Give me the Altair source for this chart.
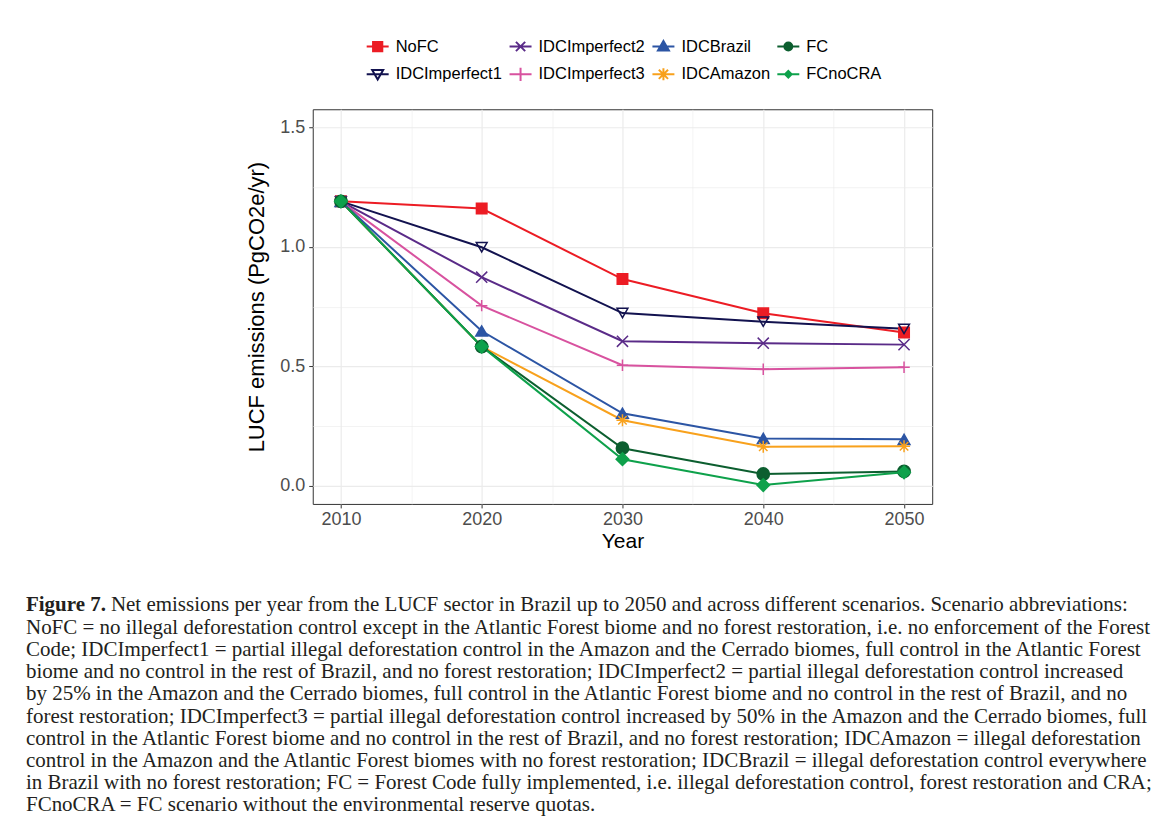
import altair as alt
import pandas as pd

# ---------------- data ----------------
years = [2010, 2020, 2030, 2040, 2050]
series_names = ["NoFC", "IDCImperfect1", "IDCImperfect2", "IDCImperfect3",
                "IDCBrazil", "IDCAmazon", "FC", "FCnoCRA"]
nofc = [1.19, 1.16, 0.865, 0.722, 0.642]
idc_imperfect1 = [1.19, 0.998, 0.723, 0.687, 0.657]
idc_imperfect2 = [1.19, 0.873, 0.605, 0.597, 0.591]
idc_imperfect3 = [1.19, 0.754, 0.505, 0.488, 0.496]
idc_brazil = [1.19, 0.648, 0.304, 0.199, 0.195]
idc_amazon = [1.19, 0.583, 0.275, 0.164, 0.166]
fc = [1.19, 0.583, 0.158, 0.050, 0.061]
fc_no_cra = [1.19, 0.583, 0.112, 0.004, 0.057]
series_values = [nofc, idc_imperfect1, idc_imperfect2, idc_imperfect3,
                 idc_brazil, idc_amazon, fc, fc_no_cra]

x_ticks = [2010, 2015, 2020, 2025, 2030, 2035, 2040, 2045, 2050]
y_ticks = [0.0, 0.25, 0.5, 0.75, 1.0, 1.25, 1.5]

caption_bold = "Figure 7."
caption_first = ("Net emissions per year from the LUCF sector in Brazil up to 2050 and across "
                 "different scenarios. Scenario abbreviations:")
caption_lines = [
    "NoFC = no illegal deforestation control except in the Atlantic Forest biome and no forest restoration, i.e. no enforcement of the Forest",
    "Code; IDCImperfect1 = partial illegal deforestation control in the Amazon and the Cerrado biomes, full control in the Atlantic Forest",
    "biome and no control in the rest of Brazil, and no forest restoration; IDCImperfect2 = partial illegal deforestation control increased",
    "by 25% in the Amazon and the Cerrado biomes, full control in the Atlantic Forest biome and no control in the rest of Brazil, and no",
    "forest restoration; IDCImperfect3 = partial illegal deforestation control increased by 50% in the Amazon and the Cerrado biomes, full",
    "control in the Atlantic Forest biome and no control in the rest of Brazil, and no forest restoration; IDCAmazon = illegal deforestation",
    "control in the Amazon and the Atlantic Forest biomes with no forest restoration; IDCBrazil = illegal deforestation control everywhere",
    "in Brazil with no forest restoration; FC = Forest Code fully implemented, i.e. illegal deforestation control, forest restoration and CRA;",
    "FCnoCRA = FC scenario without the environmental reserve quotas.",
]

# ---------------- styles ----------------
colors = {"NoFC": "#EC1C24", "IDCImperfect1": "#12124F", "IDCImperfect2": "#5A2B88",
          "IDCImperfect3": "#D8529F", "IDCBrazil": "#2C55A4", "IDCAmazon": "#F8A11C",
          "FC": "#0C5E2F", "FCnoCRA": "#0EA14B"}
fills = {"NoFC": "#EC1C24", "IDCImperfect1": "transparent", "IDCImperfect2": "transparent",
         "IDCImperfect3": "transparent", "IDCBrazil": "#2C55A4", "IDCAmazon": "transparent",
         "FC": "#0C5E2F", "FCnoCRA": "#0EA14B"}
plot_shapes = {"NoFC": "square", "IDCImperfect1": "triangle-down",
               "IDCImperfect2": "M-1,-1L1,1M-1,1L1,-1",
               "IDCImperfect3": "M-1,0L1,0M0,-1L0,1",
               "IDCBrazil": "triangle-up",
               "IDCAmazon": "M-1,0L1,0M0,-1L0,1M-0.7,-0.7L0.7,0.7M-0.7,0.7L0.7,-0.7",
               "FC": "circle", "FCnoCRA": "diamond"}
plot_sizes = {"NoFC": 110, "IDCImperfect1": 160, "IDCImperfect2": 45, "IDCImperfect3": 64,
              "IDCBrazil": 170, "IDCAmazon": 45, "FC": 115, "FCnoCRA": 60}
legend_shapes = {
    "NoFC": "M-1,0L1,0M-0.42,-0.42L0.42,-0.42L0.42,0.42L-0.42,0.42Z",
    "IDCImperfect1": "M-1,0L1,0M-0.5,-0.38L0.5,-0.38L0,0.48Z",
    "IDCImperfect2": "M-1,0L1,0M-0.42,-0.42L0.42,0.42M-0.42,0.42L0.42,-0.42",
    "IDCImperfect3": "M-1,0L1,0M0,-0.6L0,0.6",
    "IDCBrazil": "M-1,0L1,0M0,-0.5L0.5,0.36L-0.5,0.36Z",
    "IDCAmazon": "M-1,0L1,0M0,-0.55L0,0.55M-0.42,-0.42L0.42,0.42M-0.42,0.42L0.42,-0.42",
    "FC": "M-1,0L1,0M0.36,0A0.36,0.36 0 1,1 -0.36,0A0.36,0.36 0 1,1 0.36,0Z",
    "FCnoCRA": "M-1,0L1,0M0,-0.3L0.3,0L0,0.3L-0.3,0Z",
}

FONT = "Liberation Sans"
SERIF = "Liberation Serif"

# ---------------- table ----------------
rows = []
for name, vals in zip(series_names, series_values):
    for yr, v in zip(years, vals):
        rows.append({"series": name, "year": yr, "value": v})
df = pd.DataFrame(rows)

minor_x = {"condition": {"test": "datum.value % 10 != 0", "value": 0}, "value": 1}
grid_x = {"condition": {"test": "datum.value % 10 != 0", "value": 0.6}, "value": 1.2}
minor_y = {"condition": {"test": "datum.value % 0.5 != 0", "value": 0}, "value": 1}
grid_y = {"condition": {"test": "datum.value % 0.5 != 0", "value": 0.6}, "value": 1.2}

x_axis = alt.Axis(values=x_ticks, format="d",
                  labelExpr="datum.value % 10 == 0 ? datum.label : ''",
                  tickOpacity=minor_x, gridWidth=grid_x, gridColor="#EBEBEB",
                  domain=False, tickColor="#333333", tickSize=4, tickWidth=1,
                  labelFont=FONT, labelFontSize=18, labelColor="#4D4D4D", labelPadding=3,
                  labelOverlap=False, titleFont=FONT, titleFontSize=21, titleColor="black",
                  titleFontWeight="normal", titlePadding=2)
y_axis = alt.Axis(values=y_ticks, format=".1f",
                  labelExpr="datum.value % 0.5 == 0 ? datum.label : ''",
                  tickOpacity=minor_y, gridWidth=grid_y, gridColor="#EBEBEB",
                  domain=False, tickColor="#333333", tickSize=4, tickWidth=1,
                  labelFont=FONT, labelFontSize=18, labelColor="#4D4D4D", labelPadding=4,
                  labelOverlap=False, titleFont=FONT, titleFontSize=22, titleColor="black",
                  titleFontWeight="normal", titlePadding=11)

x_enc = alt.X("year:Q", title="Year",
              scale=alt.Scale(domain=[2008, 2052], nice=False, zero=False), axis=x_axis)
y_enc = alt.Y("value:Q", title="LUCF emissions (PgCO2e/yr)",
              scale=alt.Scale(domain=[-0.075, 1.575], nice=False, zero=False), axis=y_axis)

base = alt.Chart(df)

lines = base.mark_line(strokeWidth=2).encode(
    x=x_enc, y=y_enc,
    stroke=alt.Stroke("series:N", legend=None,
                      scale=alt.Scale(domain=series_names, range=[colors[s] for s in series_names])),
)

points = base.mark_point(opacity=1, strokeWidth=1.5).encode(
    x=x_enc, y=y_enc,
    stroke=alt.Stroke("series:N", legend=None,
                      scale=alt.Scale(domain=series_names, range=[colors[s] for s in series_names])),
    fill=alt.Fill("series:N", legend=None,
                  scale=alt.Scale(domain=series_names, range=[fills[s] for s in series_names])),
    shape=alt.Shape("series:N", legend=None,
                    scale=alt.Scale(domain=series_names, range=[plot_shapes[s] for s in series_names])),
    size=alt.Size("series:N", legend=None,
                  scale=alt.Scale(domain=series_names, range=[plot_sizes[s] for s in series_names])),
)

leg = alt.Legend(title=None, orient="none", legendX=53, legendY=-75, columns=4,
                 columnPadding=3, rowPadding=7, symbolSize=484, symbolStrokeWidth=2,
                 labelFont=FONT, labelFontSize=16.5, labelColor="black", labelOffset=6,
                 padding=0, symbolOpacity=1)

legend_layer = base.transform_filter("false").mark_point(opacity=1, strokeWidth=2).encode(
    x=x_enc, y=y_enc,
    stroke=alt.Stroke("series:N", legend=leg,
                      scale=alt.Scale(domain=series_names, range=[colors[s] for s in series_names])),
    fill=alt.Fill("series:N", legend=leg,
                  scale=alt.Scale(domain=series_names, range=[fills[s] for s in series_names])),
    shape=alt.Shape("series:N", legend=leg,
                    scale=alt.Scale(domain=series_names, range=[legend_shapes[s] for s in series_names])),
)

# caption: bold label + lines 2..10 under the plot, rest of line 1 as the outer title
caption_title = alt.TitleParams(
    text=[caption_bold], subtitle=caption_lines,
    orient="bottom", anchor="start", frame="group", dx=-287, offset=42,
    font=SERIF, fontSize=21, fontWeight="bold", color="#231F20", lineHeight=22.2,
    subtitleFont=SERIF, subtitleFontSize=21, subtitleFontWeight="normal",
    subtitleColor="#231F20", subtitleLineHeight=22.2, subtitlePadding=2,
)
caption_first_title = alt.TitleParams(
    text=caption_first, orient="bottom", anchor="start", frame="group", dx=-202, offset=-222,
    font=SERIF, fontSize=21, fontWeight="normal", color="#231F20", lineHeight=22.2,
)

plot = alt.layer(lines, points, legend_layer).resolve_scale(
    stroke="independent", fill="independent", shape="independent"
).properties(
    width=620, height=395,
    view=alt.ViewBackground(stroke="#333333", strokeWidth=1),
    title=caption_title,
)

chart = alt.vconcat(plot).properties(
    title=caption_first_title,
    padding={"left": 17, "top": 25, "right": 5, "bottom": 5},
    background="white",
)

chart.save("out.html", embed_options={"renderer": "svg", "actions": False})
